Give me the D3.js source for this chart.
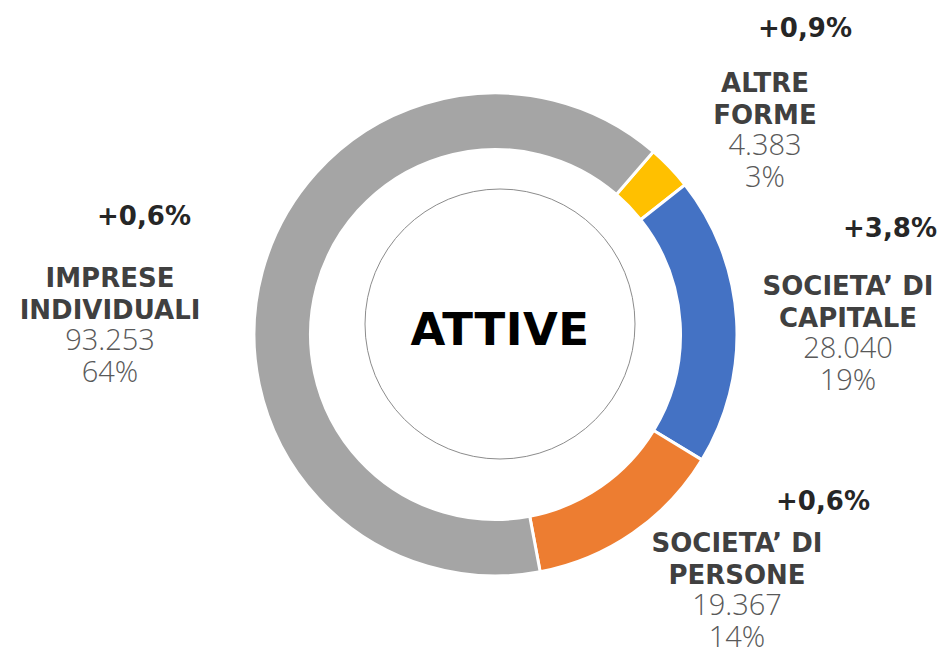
<!DOCTYPE html>
<html><head><meta charset="utf-8">
<script src="https://cdn.jsdelivr.net/npm/d3@7"></script>
<style>body{margin:0;background:#fff}svg{display:block}</style>
</head><body>
<svg id="c" width="945" height="650"></svg>
<script>
const categories = ["ALTRE FORME", "SOCIETA’ DI CAPITALE", "SOCIETA’ DI PERSONE", "IMPRESE INDIVIDUALI"];
const nameLines = [["ALTRE","FORME"],["SOCIETA’ DI","CAPITALE"],["SOCIETA’ DI","PERSONE"],["IMPRESE","INDIVIDUALI"]];
const values = [4383, 28040, 19367, 93253];
const valueLabels = ["4.383", "28.040", "19.367", "93.253"];
const shares = ["3%", "19%", "14%", "64%"];
const changes = ["+0,9%", "+3,8%", "+0,6%", "+0,6%"];
const colors = ["#FFC000", "#4472C4", "#ED7D31", "#A5A5A5"];
const centerTitle = "ATTIVE";

const svg = d3.select("#c");
const cx = 495.5, cy = 334.5, rOuter = 241.5, rInner = 185;
const start = 40.8 * Math.PI / 180;

const pie = d3.pie().sort(null).value(d => d).startAngle(start).endAngle(start + 2 * Math.PI);
const arc = d3.arc().innerRadius(rInner).outerRadius(rOuter);
const g = svg.append("g").attr("transform", `translate(${cx},${cy})`);
g.selectAll("path").data(pie(values)).join("path")
  .attr("d", arc).attr("fill", (d, i) => colors[i])
  .attr("stroke", "#fff").attr("stroke-width", 3).attr("stroke-linejoin", "miter");

svg.append("circle").attr("cx", 500).attr("cy", 324).attr("r", 135)
  .attr("fill", "none").attr("stroke", "#8c8c8c").attr("stroke-width", 1);
svg.append("text").attr("x", 500).attr("y", 345).attr("text-anchor", "middle")
  .attr("font-family", "'DejaVu Sans', sans-serif").attr("font-weight", 700)
  .attr("font-size", 45).attr("letter-spacing", 0.5).attr("fill", "#000").text(centerTitle);

// label layout: [changeX, changeY, blockX, firstBaseline]
const layout = [
  [805, 37, 765, 92],
  [890, 237, 848, 295],
  [823, 510, 737, 552],
  [144, 225, 110, 287]
];
const lh = 31.5;
const boldFont = "'DejaVu Sans', sans-serif";
const lightFont = "'Open Sans', sans-serif";
categories.forEach((c, i) => {
  const [chx, chy, bx, by] = layout[i];
  svg.append("text").attr("x", chx).attr("y", chy).attr("text-anchor", "middle")
    .attr("font-family", boldFont).attr("font-weight", 700).attr("font-size", 26)
    .attr("fill", "#262626").text(changes[i]);
  nameLines[i].forEach((t, j) => {
    svg.append("text").attr("x", bx).attr("y", by + j * lh).attr("text-anchor", "middle")
      .attr("font-family", boldFont).attr("font-weight", 700).attr("font-size", 26)
      .attr("fill", "#404040").text(t);
  });
  svg.append("text").attr("x", bx).attr("y", by + 2 * lh).attr("text-anchor", "middle")
    .attr("font-family", lightFont).attr("font-weight", 300).attr("font-size", 29)
    .attr("fill", "#595959").text(valueLabels[i]);
  svg.append("text").attr("x", bx).attr("y", by + 3 * lh).attr("text-anchor", "middle")
    .attr("font-family", lightFont).attr("font-weight", 300).attr("font-size", 29)
    .attr("fill", "#595959").text(shares[i]);
});
</script>
</body></html>
